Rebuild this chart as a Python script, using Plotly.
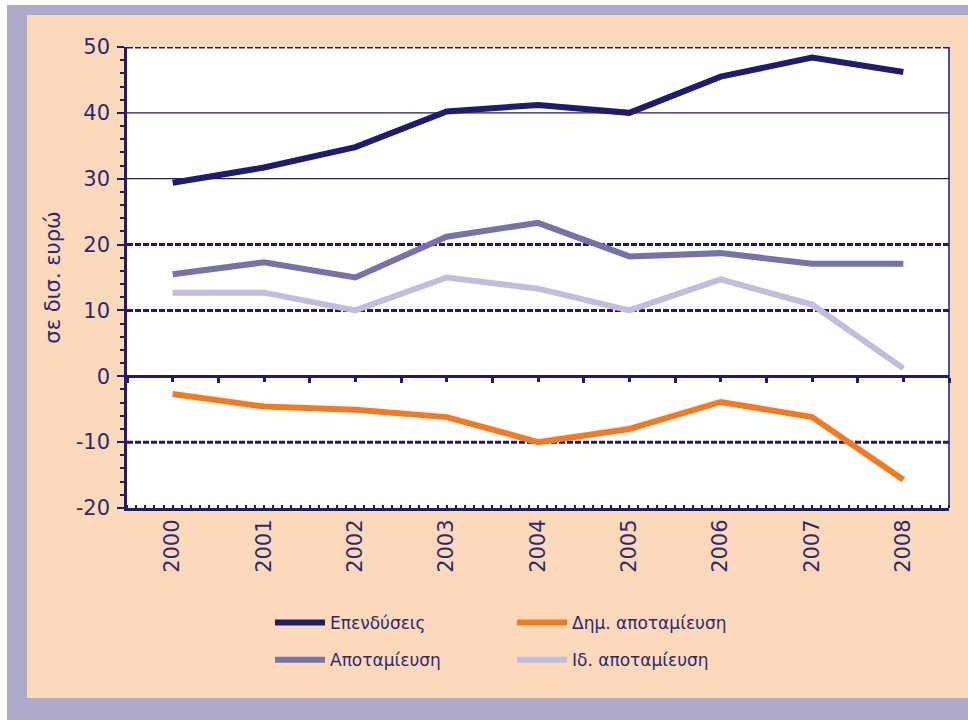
import plotly.graph_objects as go

# ---- data ----
years = ["2000", "2001", "2002", "2003", "2004", "2005", "2006", "2007", "2008"]
x_idx = list(range(len(years)))
investment = [29.4, 31.7, 34.8, 40.2, 41.2, 40.0, 45.5, 48.4, 46.2]
saving = [15.5, 17.3, 15.0, 21.2, 23.3, 18.2, 18.7, 17.1, 17.1]
private_saving = [12.7, 12.7, 10.0, 15.0, 13.3, 10.0, 14.7, 10.9, 1.2]
public_saving = [-2.7, -4.6, -5.1, -6.2, -10.0, -8.0, -3.9, -6.2, -15.7]
y_ticks = [-20, -10, 0, 10, 20, 30, 40, 50]
y_ticktext = ["-20", "-10", "0", "10", "20", "30", "40", "50"]
solid_grid = [30, 40]
dashed_grid = [-10, 10, 20, 50]
names = ["Επενδύσεις", "Δημ. αποταμίευση", "Αποταμίευση", "Ιδ. αποταμίευση"]

NAVY = "#1f1b6e"
TXT = "#2b2a70"
ORANGE = "#f47a22"
MID = "#7573a9"
LIGHT = "#c0bedc"
PEACH = "#fdd9bb"
LAV = "#aeaacc"
FONT = "DejaVu Sans"

W, H = 968, 720
L, R, T, B = 127, 19, 47, 212
PW, PH = W - L - R, H - T - B


def px(x):
    return (x - L) / PW


def py(y):
    return (H - B - y) / PH


fig = go.Figure()
fig.add_trace(go.Scatter(x=x_idx, y=investment, mode="lines", name=names[0],
                         line=dict(color=NAVY, width=6), legend="legend", legendgroup="a"))
fig.add_trace(go.Scatter(x=x_idx, y=saving, mode="lines", name=names[2],
                         line=dict(color=MID, width=6), legend="legend", legendgroup="b"))
fig.add_trace(go.Scatter(x=x_idx, y=public_saving, mode="lines", name=names[1],
                         line=dict(color=ORANGE, width=6), legend="legend2", legendgroup="c",
                         xaxis="x2"))
fig.add_trace(go.Scatter(x=x_idx, y=private_saving, mode="lines", name=names[3],
                         line=dict(color=LIGHT, width=6), legend="legend2", legendgroup="d"))

shapes = [
    dict(type="rect", xref="paper", yref="paper", x0=px(7), x1=px(W + 5), y0=py(H + 5), y1=py(5),
         fillcolor=LAV, line=dict(width=0), layer="below"),
    dict(type="rect", xref="paper", yref="paper", x0=px(27), x1=px(W + 5), y0=py(698), y1=py(15),
         fillcolor=PEACH, line=dict(width=0), layer="below"),
    dict(type="rect", xref="paper", yref="paper", x0=0, x1=1, y0=0, y1=1,
         fillcolor="white", line=dict(width=0), layer="below"),
    dict(type="line", xref="paper", yref="paper", x0=1, x1=1, y0=0, y1=1,
         line=dict(color=NAVY, width=1.5), layer="below"),
]
for g in solid_grid:
    shapes.append(dict(type="line", xref="paper", yref="y", x0=0, x1=1, y0=g, y1=g,
                       line=dict(color=NAVY, width=1.3), layer="below"))
for g in dashed_grid:
    shapes.append(dict(type="line", xref="paper", yref="y", x0=0, x1=1, y0=g, y1=g,
                       line=dict(color=NAVY, width=3, dash="6px,2px"), layer="below"))

fig.update_layout(
    width=W, height=H,
    margin=dict(l=L, r=R, t=T, b=B),
    paper_bgcolor="white",
    plot_bgcolor="white",
    font=dict(family=FONT, color=TXT, size=20),
    shapes=shapes,
    xaxis=dict(range=[-0.5, 8.5], tickmode="array", tickvals=x_idx, ticktext=years,
               tickangle=-90, ticks="", showgrid=False, zeroline=False,
               showline=True, linecolor=NAVY, linewidth=3,
               tickfont=dict(size=21, color=TXT, family=FONT),
               minor=dict(ticks="inside", tickmode="linear", tick0=-0.5, dtick=0.1,
                          ticklen=3, tickwidth=1.5, tickcolor=NAVY, showgrid=False)),
    xaxis2=dict(range=[-0.5, 8.5], overlaying="x", anchor="free", position=20 / 70,
                side="bottom", showticklabels=False, showgrid=False, zeroline=False,
                showline=True, linecolor=NAVY, linewidth=3,
                tickmode="array", tickvals=[i - 0.5 for i in range(10)],
                ticks="outside", ticklen=5, tickwidth=3, tickcolor=NAVY,
                minor=dict(ticks="outside", tickmode="array", tickvals=x_idx,
                           ticklen=4, tickwidth=2.5, tickcolor=NAVY, showgrid=False)),
    yaxis=dict(range=[-20, 50], tickmode="array", tickvals=y_ticks, ticktext=y_ticktext,
               ticks="outside", ticklen=7, tickwidth=2, tickcolor=NAVY,
               showgrid=False, zeroline=False, showline=True, linecolor=NAVY, linewidth=2.5,
               tickfont=dict(size=21, color=TXT, family=FONT),
               ticklabelstandoff=3,
               minor=dict(ticks="outside", tickmode="linear", tick0=0, dtick=2,
                          ticklen=4, tickwidth=2, tickcolor=NAVY, showgrid=False),
               title=dict(text="σε δισ. ευρώ", font=dict(size=21, color=TXT, family=FONT),
                          standoff=10)),
    legend=dict(x=px(270), y=py(605), xanchor="left", yanchor="top", orientation="v",
                bgcolor="rgba(0,0,0,0)", font=dict(size=17, color=TXT, family=FONT),
                tracegroupgap=12, itemwidth=50),
    legend2=dict(x=px(512), y=py(605), xanchor="left", yanchor="top", orientation="v",
                 bgcolor="rgba(0,0,0,0)", font=dict(size=17, color=TXT, family=FONT),
                 tracegroupgap=12, itemwidth=50),
)

fig.write_html("out.html", config={"displayModeBar": False},
               post_script="document.body.style.margin='0';")
